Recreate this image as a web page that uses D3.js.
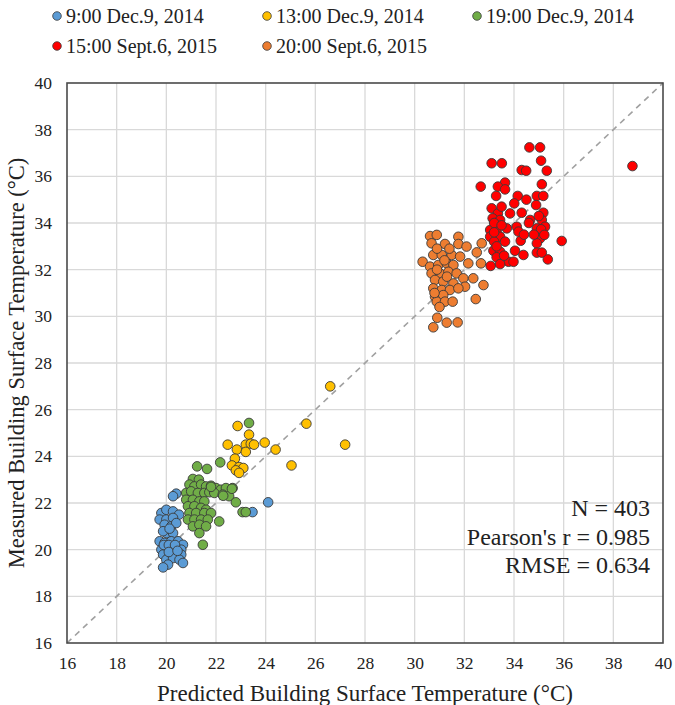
<!DOCTYPE html>
<html>
<head>
<meta charset="utf-8">
<script src="https://cdn.jsdelivr.net/npm/d3@7/dist/d3.min.js"></script>
<style>
  html, body { margin: 0; padding: 0; background: #fff; }
  svg { display: block; }
  text { font-family: "Liberation Serif", "Times New Roman", serif; fill: #222; }
</style>
</head>
<body>
<svg id="chart" width="675" height="705"></svg>
<script>
// ---- Data ----
const seriesNames = ["9:00 Dec.9, 2014", "13:00 Dec.9, 2014", "19:00 Dec.9, 2014", "15:00 Sept.6, 2015", "20:00 Sept.6, 2015"];
const seriesColors = ["#5B9BD5", "#FFC000", "#70AD47", "#FF0000", "#ED7D31"];

const dec9_0900 = [
  [20.4,22.4],[20.27,22.29],[19.8,21.57],[20.0,21.71],[20.27,21.64],[20.51,21.5],[19.73,21.29],[20.0,21.29],
  [20.27,21.36],[19.93,21.07],[20.2,21.0],[20.4,21.14],[20.0,20.71],[20.27,20.71],[19.87,20.79],[20.13,20.9],
  [19.73,20.36],[19.93,20.29],[20.2,20.36],[20.47,20.36],[20.67,20.21],[19.8,20.0],[20.07,20.07],[20.33,20.0],
  [20.6,20.0],[19.87,19.79],[20.13,19.71],[20.4,19.79],[20.6,19.79],[20.0,19.57],[20.27,19.64],[20.53,19.57],
  [20.07,19.36],[19.87,19.24],[20.67,19.43],[19.9,20.2],[20.1,20.2],[20.35,20.2],[20.1,19.9],[20.45,19.95],
  [24.1,22.03],[23.47,21.61]
];
const dec9_1300 = [
  [22.87,25.3],[25.64,25.4],[23.33,24.93],[22.47,24.5],[23.2,24.5],[23.4,24.54],[23.53,24.5],[23.96,24.59],
  [22.84,24.29],[23.2,24.19],[24.4,24.29],[22.76,23.9],[22.64,23.61],[22.93,23.54],[23.1,23.5],[22.8,23.4],
  [22.93,23.29],[25.04,23.61],[26.6,27.0],[27.2,24.5]
];
const dec9_1900 = [
  [21.07,23.03],[21.31,23.0],[20.93,22.79],[21.13,22.71],[21.4,22.79],[21.6,22.71],[21.8,22.74],[22.0,22.64],
  [22.2,22.57],[22.4,22.64],[22.67,22.64],[20.8,22.43],[21.0,22.5],[21.27,22.43],[21.53,22.43],[21.73,22.46],
  [21.93,22.43],[22.27,22.36],[22.53,22.29],[22.8,22.03],[20.8,22.14],[21.07,22.14],[21.33,22.07],[21.53,22.07],
  [20.87,21.86],[21.13,21.86],[21.4,21.79],[21.6,21.71],[20.93,21.57],[21.2,21.57],[21.53,21.57],[21.8,21.57],
  [20.87,21.29],[21.13,21.29],[21.4,21.29],[21.67,21.29],[22.13,21.21],[21.07,21.0],[21.33,21.07],[21.6,21.0],
  [21.33,20.71],[21.47,20.21],[23.07,21.61],[23.2,21.61],[23.33,25.43],[22.17,23.74],[21.24,23.57],[21.64,23.46],
  [22.64,22.61],[22.29,22.31],[21.8,22.69]
];
const sep6_1500 = [
  [34.62,37.24],[35.05,37.24],[33.1,36.56],[33.51,36.56],[35.09,36.67],[34.31,36.27],[34.49,36.24],[35.32,36.24],
  [38.77,36.44],[32.66,35.56],[33.64,35.73],[33.35,35.56],[33.64,35.44],[33.28,35.16],[35.12,35.66],[34.15,35.16],
  [34.01,34.84],[34.92,35.16],[35.18,35.16],[33.1,34.63],[33.35,34.41],[33.84,34.41],[34.31,34.44],[34.89,34.77],
  [35.18,34.44],[33.14,34.2],[33.44,34.13],[33.71,33.77],[34.11,33.84],[34.65,34.13],[35.12,34.13],[35.25,33.84],
  [34.92,33.77],[35.09,33.73],[33.04,33.7],[33.3,33.63],[33.44,33.41],[34.18,33.63],[33.04,33.41],[33.2,33.2],
  [33.64,33.2],[34.27,33.24],[35.05,33.34],[35.22,33.49],[34.92,33.13],[35.92,33.23],[33.17,32.81],[33.44,32.77],
  [34.04,32.81],[34.92,32.73],[35.12,32.73],[34.38,32.63],[35.36,32.44],[33.3,32.53],[33.78,32.34],[33.98,32.34],
  [33.06,32.16],[33.44,32.24],[33.2,34.0],[33.5,33.9],[33.3,33.0],[33.6,32.6],[34.6,34.0],[34.8,33.5],
  [35.0,34.3],[33.5,34.7],[34.5,35.0],[33.2,33.6],[34.4,33.5]
];
const sep6_2000 = [
  [30.62,33.44],[30.89,33.49],[30.68,33.13],[31.22,33.1],[31.76,33.41],[31.76,33.1],[32.09,32.99],[32.7,33.13],
  [32.5,32.74],[30.32,32.34],[30.75,32.63],[31.09,32.63],[31.49,32.63],[31.83,32.56],[30.62,32.13],[30.95,32.2],
  [31.29,32.27],[31.56,32.2],[32.16,32.27],[32.67,32.27],[30.68,31.84],[31.02,31.84],[31.36,31.91],[31.69,31.84],
  [31.96,31.63],[30.82,31.56],[31.15,31.49],[31.56,31.41],[32.36,31.63],[32.77,31.34],[32.03,31.27],[30.75,31.2],
  [31.09,31.13],[31.42,31.13],[31.76,31.2],[30.82,30.84],[31.15,30.91],[30.89,30.63],[31.22,30.63],[31.53,30.63],
  [32.46,30.74],[30.91,29.94],[31.29,29.73],[31.73,29.74],[30.75,29.53],[30.9,32.9],[31.2,32.4],[30.8,31.0],
  [31.0,30.4],[31.3,31.7],[30.9,32.0],[31.4,32.9]
];
const seriesData = [dec9_0900, dec9_1300, dec9_1900, sep6_1500, sep6_2000];
// draw order (later on top)
const drawOrder = [0, 2, 1, 4, 3];

const axisTicks = [16, 18, 20, 22, 24, 26, 28, 30, 32, 34, 36, 38, 40];
const xTitle = "Predicted Building Surface Temperature (\u00B0C)";
const yTitle = "Measured Building Surface Temperature (\u00B0C)";
const statsLines = ["N = 403", "Pearson's r = 0.985", "RMSE = 0.634"];

// ---- Layout ----
const svg = d3.select("#chart");
const plot = { left: 67, right: 663, top: 83, bottom: 643 };

const x = d3.scaleLinear().domain([16, 40]).range([plot.left, plot.right]);
const y = d3.scaleLinear().domain([16, 40]).range([plot.bottom, plot.top]);

// gridlines
const grid = svg.append("g");
grid.selectAll("line.vx").data(axisTicks.slice(1, -1)).join("line")
  .attr("x1", d => x(d)).attr("x2", d => x(d))
  .attr("y1", plot.top).attr("y2", plot.bottom)
  .attr("stroke", "#d9d9d9").attr("stroke-width", 1.3);
grid.selectAll("line.hy").data(axisTicks.slice(1, -1)).join("line")
  .attr("y1", d => y(d)).attr("y2", d => y(d))
  .attr("x1", plot.left).attr("x2", plot.right)
  .attr("stroke", "#d9d9d9").attr("stroke-width", 1.3);

// axes (labels only)
const xAxis = d3.axisBottom(x).tickValues(axisTicks).tickSize(0).tickPadding(14).tickFormat(d3.format("d"));
const yAxis = d3.axisLeft(y).tickValues(axisTicks).tickSize(0).tickPadding(15).tickFormat(d3.format("d"));
const gx = svg.append("g").attr("transform", `translate(0,${plot.bottom})`).call(xAxis);
const gy = svg.append("g").attr("transform", `translate(${plot.left},0)`).call(yAxis);
[gx, gy].forEach(g => {
  g.select(".domain").remove();
  g.selectAll("text").style("font-family", "'Liberation Serif', serif").style("font-size", "17.5px").attr("fill", "#333");
});

// 1:1 dashed line
svg.append("line")
  .attr("x1", x(16)).attr("y1", y(16)).attr("x2", x(40)).attr("y2", y(40))
  .attr("stroke", "#a0a0a0").attr("stroke-width", 1.6).attr("stroke-dasharray", "6,5");

// points
drawOrder.forEach(i => {
  svg.append("g").selectAll("circle").data(seriesData[i]).join("circle")
    .attr("cx", d => x(d[0])).attr("cy", d => y(d[1])).attr("r", 4.8)
    .attr("fill", seriesColors[i]).attr("stroke", "#3a3a3a").attr("stroke-width", 0.9);
});

// plot border
svg.append("rect")
  .attr("x", plot.left).attr("y", plot.top)
  .attr("width", plot.right - plot.left).attr("height", plot.bottom - plot.top)
  .attr("fill", "none").attr("stroke", "#4a4a4a").attr("stroke-width", 1.6);

// axis titles
svg.append("text").attr("x", (plot.left + plot.right) / 2).attr("y", 701)
  .attr("text-anchor", "middle").style("font-size", "23px").text(xTitle);
svg.append("text")
  .attr("transform", `translate(24,${(plot.top + plot.bottom) / 2}) rotate(-90)`)
  .attr("text-anchor", "middle").style("font-size", "22.5px").text(yTitle);

// stats
svg.append("g").selectAll("text").data(statsLines).join("text")
  .attr("x", 650).attr("y", (d, i) => 516 + i * 28.5)
  .attr("text-anchor", "end").style("font-size", "24px").text(d => d);

// legend
const legendPos = [[57, 16], [267, 16], [477, 16], [57, 46], [267, 46]];
const lg = svg.append("g");
seriesNames.forEach((name, i) => {
  const [lx, ly] = legendPos[i];
  lg.append("circle").attr("cx", lx).attr("cy", ly).attr("r", 4.3)
    .attr("fill", seriesColors[i]).attr("stroke", "#3a3a3a").attr("stroke-width", 0.8);
  lg.append("text").attr("x", lx + 9).attr("y", ly + 6.5)
    .style("font-size", "20px").text(name);
});
</script>
</body>
</html>
